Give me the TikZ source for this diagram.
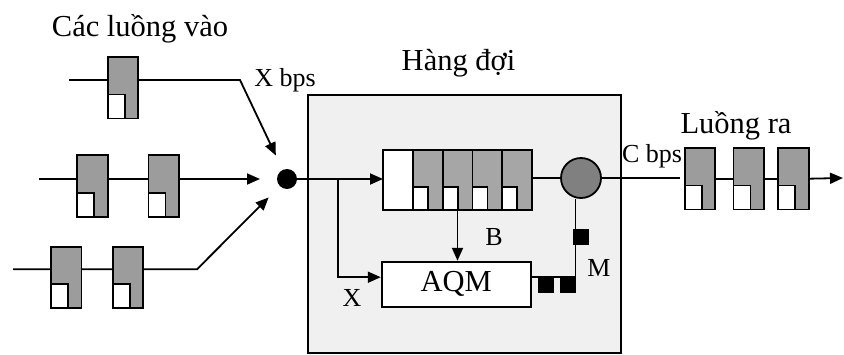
\documentclass[tikz,border=0pt]{standalone}
\usepackage{fontspec}
\setmainfont{Liberation Serif}
\usetikzlibrary{arrows.meta}
\pgfdeclarelayer{bglayer}
\pgfdeclarelayer{linelayer}
\pgfsetlayers{bglayer,linelayer,main}
\definecolor{pktgray}{HTML}{9C9C9C}
\definecolor{cellgray}{HTML}{A6A6A6}
\definecolor{srvgray}{HTML}{808080}
\definecolor{boxgray}{HTML}{F0F0F0}
\tikzset{
  lw/.style={line width=1.8pt},
  arr/.style={lw,-{Triangle[length=13pt,width=11pt]}},
  pkt/.style={draw, lw, fill=pktgray, minimum width=30.5pt, minimum height=61.5pt,
    inner sep=0pt, outer sep=0pt,
    path picture={\draw[lw, fill=white] ([xshift=-2pt,yshift=-2pt]path picture bounding box.south west) rectangle ++(19pt,26pt);}},
  wcell/.style={draw, lw, fill=white, minimum width=29.8pt, minimum height=60pt, inner sep=0pt, outer sep=0pt},
  gcell/.style={draw, lw, fill=cellgray, minimum width=29.8pt, minimum height=60pt, inner sep=0pt, outer sep=0pt,
    path picture={\draw[lw, fill=white] ([xshift=-2pt,yshift=-2pt]path picture bounding box.south west) rectangle ++(17pt,25pt);}},
  blk/.style={fill=black, minimum size=16pt, inner sep=0pt, outer sep=0pt},
  bigtxt/.style={font=\fontsize{30.5}{35}\selectfont, inner sep=0pt, anchor=base},
  lbl/.style={font=\fontsize{26}{30}\selectfont, inner sep=0pt},
}
\begin{document}
\begin{tikzpicture}[x=1pt,y=-1pt]
\useasboundingbox (0,0) rectangle (844,354);
% big queue box
\begin{pgfonlayer}{bglayer}
\node[draw, lw, fill=boxgray, minimum width=312.7pt, minimum height=257.7pt, inner sep=0pt] (qbox) at (464.65,223.85) {};
\end{pgfonlayer}
% titles
\node[bigtxt] (tin) at (140,36.7) {Các luồng vào};
\node[bigtxt] (tq) at (458.5,70.7) {Hàng đợi};
\node[bigtxt] (tout) at (736,133.3) {Luồng ra};
\node[lbl, anchor=base] (xbps) at (285,86) {X bps};
\node[lbl, anchor=base] (cbps) at (652,162) {C bps};
\node[lbl] (lb) at (494,237) {B};
\node[lbl] (lm) at (599,268) {M};
\node[lbl] (lx) at (352,298) {X};
% junction dot
\node[circle, fill=black, minimum size=20pt, inner sep=0pt, outer sep=0pt] (dot) at (287,179) {};
% input packets
\node[pkt] (a1) at (123,87.8) {};
\node[pkt] (b1) at (92.5,186) {};
\node[pkt] (b2) at (163.7,186) {};
\node[pkt] (c1) at (66.3,277.5) {};
\node[pkt] (c2) at (128,277.5) {};
% queue cells
\node[wcell] (q0) at (397.9,180) {};
\node[gcell] (q1) at (427.7,180) {};
\node[gcell] (q2) at (457.5,180) {};
\node[gcell] (q3) at (487.3,180) {};
\node[gcell] (q4) at (517.1,180) {};
% server
\node[circle, draw, lw, fill=srvgray, minimum size=40pt, inner sep=0pt] (srv) at (581,178) {};
% AQM
\node[draw, lw, fill=white, minimum width=149pt, minimum height=45pt, inner sep=0pt,
  font=\fontsize{30.5}{35}\selectfont] (aqm) at (456.2,284.2) {AQM};
% marks
\node[blk] (m1) at (581,237) {};
\node[blk] (m2) at (546,285) {};
\node[blk] (m3) at (567.6,285) {};
% output packets
\node[pkt] (o1) at (700,178.7) {};
\node[pkt] (o2) at (748.7,178.7) {};
\node[pkt] (o3) at (793.4,178.7) {};
% coordinates
\coordinate (r1s) at (69,80);
\coordinate (r1b) at (240,80);
\coordinate (r2s) at (39,179);
\coordinate (r3s) at (13,269.3);
\coordinate (r3b) at (197,269.3);
\coordinate (brk) at (338.3,179);
\coordinate (fbk) at (575.5,277);
\coordinate (oend) at (843,178);
% connectors
\begin{pgfonlayer}{linelayer}
\draw[arr, shorten >=16pt] (r1s) -- (r1b) -- (dot);
\draw[arr, shorten >=17pt] (r2s) -- (dot);
\draw[arr, shorten >=16pt] (r3s) -- (r3b) -- (dot);
\draw[arr] (dot.east) -- (dot.east -| q0.west);
\draw[arr] (brk) |- ([yshift=7pt]aqm.west);
\draw[arr] (q2.south) -- (q2.south |- aqm.north);
\draw[lw] (q4.east |- srv) -- (srv);
\draw[lw] (srv.south -| fbk) -- (fbk) -- (fbk -| aqm.east);
\draw[lw, shorten >=5pt] (srv.east) -- (o1.west |- srv.east);
\draw[lw] (o1) -- (o2) -- (o3);
\draw[arr] (o3.east) -- (oend);
\end{pgfonlayer}
\end{tikzpicture}
\end{document}
